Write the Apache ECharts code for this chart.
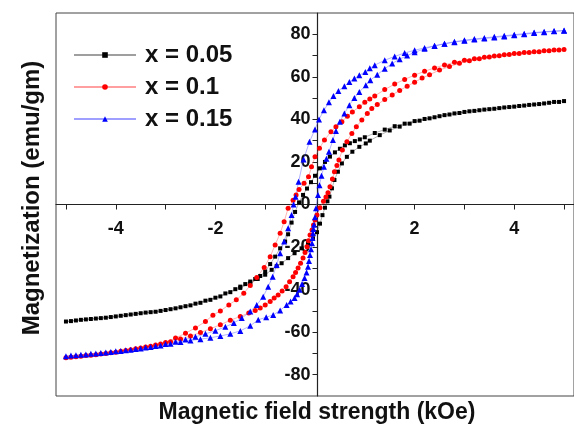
<!DOCTYPE html>
<html>
<head>
<meta charset="utf-8">
<script src="https://cdn.jsdelivr.net/npm/echarts@6/dist/echarts.min.js"></script>
<style>
html,body{margin:0;padding:0;background:#fff;}
#chart{width:574px;height:435px;}
</style>
</head>
<body>
<div id="chart"></div>
<script>
// ---- data ----
var seriesNames = ['x = 0.05', 'x = 0.1', 'x = 0.15'];
var xTickLabels = [-4, -2, 2, 4];
var yTickLabels = [-80, -60, -40, -20, 0, 20, 40, 60, 80];

// x = 0.05 : descending branch (+5 -> -5)
var blackDownX = [5.0,4.8,4.6,4.4,4.2,4.0,3.8,3.6,3.4,3.2,3.0,2.8,2.6,2.4,2.2,2.0,1.8,1.6,1.4,1.2,1.0,0.9,0.8,0.7,0.6,0.5,0.4,0.3,0.2,0.1,0.0,-0.08,-0.16,-0.24,-0.32,-0.4,-0.47,-0.54,-0.6,-0.7,-0.8,-0.9,-1.0,-1.1,-1.2,-1.3,-1.4,-1.5,-1.6,-1.8,-2.0,-2.2,-2.4,-2.6,-2.8,-3.0,-3.2,-3.4,-3.6,-3.8,-4.0,-4.2,-4.4,-4.6,-4.8,-5.0];
var blackDownY = [48.6,48.2,47.5,47.0,46.5,46.0,45.6,45.0,44.6,44.0,43.5,42.8,42.0,41.0,40.2,39.2,38.0,36.8,35.2,33.6,31.6,30.6,29.8,28.8,27.8,26.2,24.5,22.5,20.0,17.0,13.5,10.5,7.5,4.5,1.0,-3.5,-8.5,-14.0,-17.4,-20.6,-24.5,-28.0,-31.5,-33.6,-35.0,-36.2,-37.4,-38.6,-39.8,-41.8,-43.8,-45.2,-46.6,-47.8,-48.8,-49.6,-50.4,-50.8,-51.4,-52.0,-52.6,-53.2,-53.6,-54.0,-54.5,-55.0];
// x = 0.05 : ascending branch (-5 -> +5)
var blackUpX = [-4.9,-4.7,-4.5,-4.3,-4.1,-3.9,-3.7,-3.5,-3.3,-3.1,-2.9,-2.7,-2.5,-2.3,-2.1,-1.9,-1.7,-1.5,-1.3,-1.15,-1.0,-0.87,-0.77,-0.67,-0.54,-0.41,-0.27,-0.14,-0.04,0.04,0.1,0.15,0.2,0.25,0.29,0.34,0.39,0.46,0.54,0.64,0.75,0.89,1.02,1.1,1.3,1.5,1.7,1.9,2.1,2.3,2.5,2.7,2.9,3.1,3.3,3.5,3.7,3.9,4.1,4.3,4.5,4.7,4.9];
var blackUpY = [-54.8,-54.2,-53.8,-53.4,-52.9,-52.3,-51.7,-51.1,-50.6,-50.0,-49.2,-48.3,-47.4,-46.2,-44.8,-43.2,-41.2,-39.2,-37.0,-35.0,-33.0,-30.7,-29.0,-27.6,-25.2,-22.9,-20.6,-18.2,-15.9,-13.0,-9.0,-5.0,-1.5,1.5,3.7,7.6,11.5,15.4,19.3,22.4,24.8,27.1,28.7,30.0,32.6,34.8,36.6,38.0,39.4,40.5,41.5,42.3,43.0,43.8,44.3,44.8,45.3,45.8,46.3,46.8,47.2,47.8,48.2];

// x = 0.1
var redDownX = [5.0,4.8,4.6,4.4,4.2,4.0,3.8,3.6,3.4,3.2,3.0,2.8,2.6,2.4,2.2,2.0,1.8,1.6,1.4,1.2,1.1,1.0,0.89,0.75,0.65,0.54,0.42,0.32,0.19,0.09,0.0,-0.07,-0.13,-0.22,-0.32,-0.38,-0.44,-0.54,-0.62,-0.7,-0.8,-0.9,-1.02,-1.17,-1.3,-1.43,-1.58,-1.73,-1.9,-2.05,-2.2,-2.4,-2.6,-2.8,-3.0,-3.2,-3.4,-3.6,-3.8,-4.0,-4.2,-4.4,-4.6,-4.8,-5.0];
var redDownY = [72.8,72.6,72.2,71.8,71.4,71.0,70.4,69.8,69.2,68.5,67.8,66.8,65.6,64.2,62.6,60.8,58.8,56.6,54.0,51.0,49.6,48.0,45.9,43.5,41.5,38.9,36.5,34.2,30.3,26.4,22.4,17.7,13.0,10.0,7.0,4.5,2.0,-1.8,-8.1,-13.5,-19.0,-24.5,-29.6,-34.3,-38.1,-41.7,-44.8,-47.2,-50.0,-52.0,-55.0,-58.0,-60.5,-62.8,-64.8,-66.0,-67.0,-67.8,-68.6,-69.4,-70.0,-70.6,-71.0,-71.5,-72.0];
var redUpX = [-4.9,-4.7,-4.5,-4.3,-4.1,-3.9,-3.7,-3.5,-3.3,-3.1,-2.9,-2.7,-2.5,-2.3,-2.1,-1.9,-1.7,-1.5,-1.33,-1.2,-1.1,-1.0,-0.9,-0.82,-0.74,-0.66,-0.58,-0.51,-0.44,-0.39,-0.34,-0.29,-0.24,-0.2,-0.16,-0.13,-0.1,-0.06,-0.03,0.0,0.04,0.1,0.17,0.22,0.26,0.3,0.35,0.39,0.44,0.48,0.55,0.64,0.74,0.83,0.94,1.05,1.14,1.25,1.4,1.55,1.7,1.85,2.0,2.15,2.3,2.5,2.7,2.9,3.1,3.3,3.5,3.7,3.9,4.1,4.3,4.5,4.7,4.9];
var redUpY = [-71.8,-71.3,-70.8,-70.3,-69.7,-69.0,-68.3,-67.4,-66.6,-65.6,-64.5,-63.2,-61.8,-60.2,-58.4,-56.5,-54.4,-52.6,-51.0,-49.8,-48.7,-47.2,-45.6,-44.0,-42.5,-40.6,-38.6,-36.3,-33.9,-32.0,-29.9,-27.6,-25.2,-22.5,-19.8,-17.0,-14.3,-12.0,-9.6,-7.3,-4.9,-1.5,1.5,3.5,5.5,8.4,12.0,15.4,18.3,20.9,25.6,29.5,33.4,36.5,39.7,42.8,45.1,47.0,49.3,51.5,53.6,55.6,57.5,59.4,61.0,63.2,64.8,66.4,67.6,68.5,69.3,69.9,70.5,71.0,71.4,71.8,72.3,72.6];

// x = 0.15
var blueDownX = [5.0,4.8,4.6,4.4,4.2,4.0,3.8,3.6,3.4,3.2,3.0,2.8,2.6,2.4,2.2,2.0,1.8,1.6,1.4,1.2,1.1,1.01,0.89,0.79,0.69,0.59,0.47,0.37,0.28,0.18,0.08,0.0,-0.11,-0.23,-0.33,-0.39,-0.43,-0.47,-0.54,-0.62,-0.7,-0.77,-0.85,-0.94,-1.04,-1.17,-1.3,-1.47,-1.63,-1.8,-2.0,-2.2,-2.4,-2.6,-2.8,-3.0,-3.2,-3.4,-3.6,-3.8,-4.0,-4.2,-4.4,-4.6,-4.8,-5.0];
var blueDownY = [81.6,81.4,81.0,80.6,80.0,79.5,79.0,78.5,78.0,77.5,77.0,76.3,75.5,74.6,73.6,72.5,71.2,69.6,67.8,65.5,64.0,62.3,60.8,59.2,57.6,55.6,53.4,51.0,48.0,44.3,40.0,35.3,29.5,21.2,10.7,3.7,0.0,-4.9,-11.2,-17.4,-22.9,-28.4,-33.9,-38.6,-43.3,-47.2,-50.3,-53.4,-55.7,-57.5,-59.3,-60.8,-62.2,-63.4,-64.5,-65.6,-66.5,-67.2,-67.9,-68.5,-69.0,-69.5,-70.0,-70.5,-70.9,-71.3];
var blueUpX = [-4.9,-4.7,-4.5,-4.3,-4.1,-3.9,-3.7,-3.5,-3.3,-3.1,-2.9,-2.7,-2.5,-2.3,-2.1,-1.9,-1.7,-1.5,-1.3,-1.14,-0.98,-0.84,-0.7,-0.57,-0.49,-0.41,-0.36,-0.31,-0.26,-0.21,-0.17,-0.14,-0.12,-0.1,-0.08,-0.06,-0.05,-0.04,-0.03,-0.02,0.0,0.02,0.06,0.09,0.13,0.18,0.23,0.28,0.36,0.42,0.5,0.59,0.69,0.79,0.89,1.02,1.11,1.25,1.4,1.55,1.7,1.85,2.0,2.2,2.4,2.6,2.8,3.0,3.2,3.4,3.6,3.8,4.0,4.2,4.4,4.6,4.8,5.0];
var blueUpY = [-71.0,-70.6,-70.2,-69.8,-69.3,-68.8,-68.3,-67.7,-67.0,-66.3,-65.5,-64.6,-63.9,-63.3,-62.6,-61.8,-60.8,-59.4,-57.0,-54.2,-53.0,-51.9,-49.8,-47.2,-45.6,-44.0,-42.2,-40.1,-37.4,-34.6,-32.0,-29.2,-26.5,-23.7,-21.0,-18.2,-15.8,-13.5,-11.5,-9.5,-6.0,-1.8,4.5,9.0,13.5,17.7,21.5,24.8,30.3,34.6,38.9,42.8,46.7,50.1,52.9,56.0,58.4,61.0,63.8,66.3,68.3,70.0,71.5,73.2,74.5,75.6,76.5,77.2,77.8,78.3,78.8,79.3,79.8,80.3,80.8,81.2,81.5,81.8];

function pairs(xs, ys) {
  var out = [];
  for (var i = 0; i < xs.length; i++) out.push([xs[i], ys[i]]);
  return out;
}
var blackData = pairs(blackDownX, blackDownY).concat(pairs(blackUpX, blackUpY));
var redData = pairs(redDownX, redDownY).concat(pairs(redUpX, redUpY));
var blueData = pairs(blueDownX, blueDownY).concat(pairs(blueUpX, blueUpY));

var FONT = '"Liberation Sans", Arial, sans-serif';
var chart = echarts.init(document.getElementById('chart'), null, {renderer: 'canvas'});

// grid geometry
var G_LEFT = 56, G_TOP = 13, G_W = 523, G_H = 383;
var X_MIN = -5.2, X_MAX = 5.2, Y_MIN = -90, Y_MAX = 90;
// axes cross at the origin: shift them from the grid edges
var xAxisOffset = -G_H * (0 - Y_MIN) / (Y_MAX - Y_MIN);
var yAxisOffset = -G_W * (0 - X_MIN) / (X_MAX - X_MIN);

function mk(name, data, color, lineColor, symbol, size) {
  return {
    name: name, type: 'line', data: data,
    symbol: symbol, symbolSize: size,
    itemStyle: {color: color},
    lineStyle: {color: lineColor, width: 0.8},
    showSymbol: true, clip: true, animation: false, z: 3
  };
}

chart.setOption({
  backgroundColor: '#fff',
  animation: false,
  grid: {left: G_LEFT, top: G_TOP, width: G_W, height: G_H, show: true, borderColor: '#444', borderWidth: 1, backgroundColor: 'transparent'},
  legend: {
    left: 68, top: 38, orient: 'vertical',
    itemWidth: 62, itemHeight: 7, itemGap: 8,
    textStyle: {fontFamily: FONT, fontSize: 24, fontWeight: 'bold', color: '#111', padding: [0,0,0,4]},
    data: seriesNames
  },
  xAxis: {
    type: 'value', min: X_MIN, max: X_MAX, position: 'bottom', offset: xAxisOffset,
    axisLine: {onZero: false, lineStyle: {color: '#222', width: 1.2}},
    axisTick: {show: true, inside: false, length: 5, customValues: [-5,-4,-3,-2,-1,1,2,3,4,5], lineStyle: {color: '#222'}},
    axisLabel: {customValues: xTickLabels, fontFamily: FONT, fontSize: 18, fontWeight: 'bold', color: '#111', margin: 16},
    splitLine: {show: false}
  },
  yAxis: {
    type: 'value', min: Y_MIN, max: Y_MAX, position: 'left', offset: yAxisOffset,
    axisLine: {onZero: false, lineStyle: {color: '#222', width: 1.2}},
    axisTick: {show: true, inside: false, length: 5, customValues: [-80,-70,-60,-50,-40,-30,-20,-10,0,10,20,30,40,50,60,70,80], lineStyle: {color: '#222'}},
    axisLabel: {customValues: yTickLabels, fontFamily: FONT, fontSize: 18, fontWeight: 'bold', color: '#111', margin: 7},
    splitLine: {show: false}
  },
  graphic: [
    {type: 'text', x: 32, y: 198, rotation: Math.PI / 2,
     style: {text: 'Magnetization (emu/gm)', font: 'bold 24px ' + FONT, fill: '#111', align: 'center', verticalAlign: 'middle'}},
    {type: 'text', x: 317, y: 413,
     style: {text: 'Magnetic field strength (kOe)', font: 'bold 23px ' + FONT, fill: '#111', align: 'center', verticalAlign: 'middle'}}
  ],
  series: [
    mk(seriesNames[0], blackData, '#000000', 'rgba(80,80,80,0.55)', 'rect', 4),
    mk(seriesNames[1], redData, '#ff0000', 'rgba(255,80,80,0.55)', 'circle', 5),
    mk(seriesNames[2], blueData, '#0000ff', 'rgba(80,80,255,0.55)', 'triangle', 6)
  ]
});
</script>
</body>
</html>
